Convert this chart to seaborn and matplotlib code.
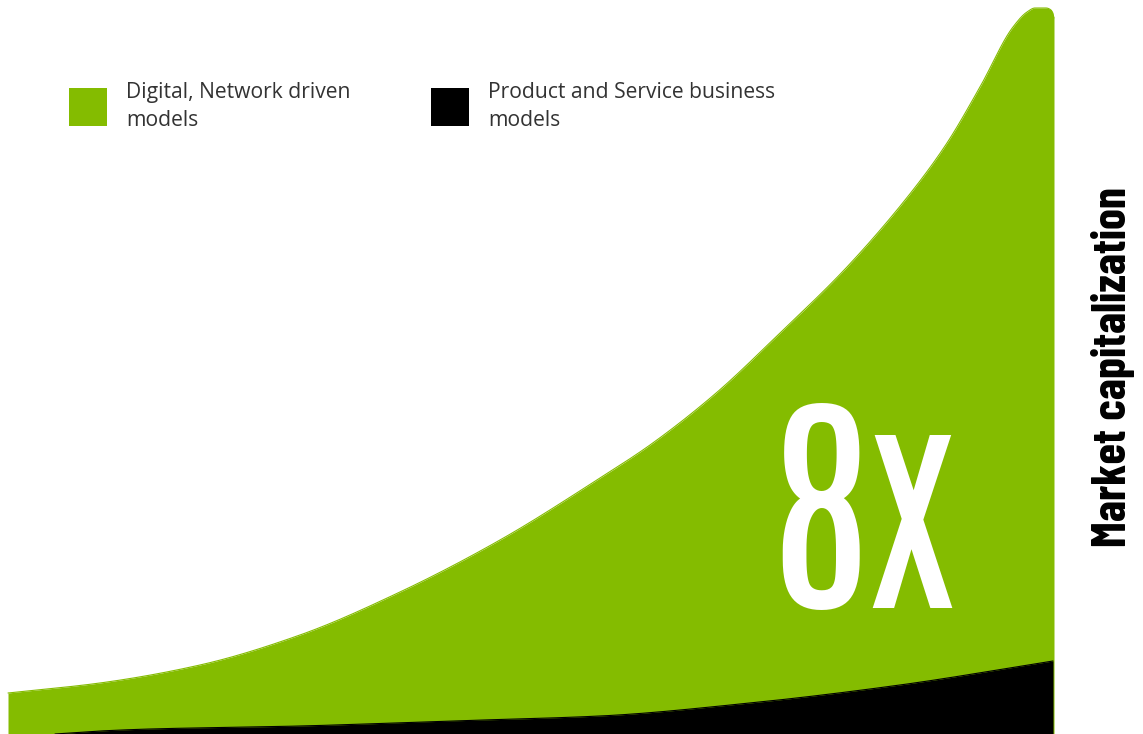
import numpy as np
import matplotlib
matplotlib.use("Agg")
import matplotlib.pyplot as plt
import seaborn as sns
from matplotlib import font_manager
from matplotlib.font_manager import FontProperties
from matplotlib.textpath import TextPath

# ---- data ----
time_green = [8, 100, 200, 300, 400, 500, 600, 650, 715, 780, 847, 913, 947, 980, 1013, 1027, 1035, 1046, 1052, 1054]
cap_green = [41, 51, 69, 99, 142, 194, 256, 289, 340, 401, 467, 544, 591, 647, 707, 722, 726, 726, 723, 716]
time_black = [55, 100, 150, 300, 450, 600, 750, 900, 1053]
cap_black = [0, 3, 5, 8, 13, 18, 31, 49, 73]
series_labels = ["Digital, Network driven\nmodels", "Product and Service business\nmodels"]
big_label = "8x"
axis_label = "Market capitalization"

GREEN = "#84BC00"
PX = 100 / 72.0


def pchip(x, y, xn):
    x = np.asarray(x, float); y = np.asarray(y, float)
    h = np.diff(x); d = np.diff(y) / h
    n = len(x); m = np.zeros(n)
    m[0], m[-1] = d[0], d[-1]
    for k in range(1, n - 1):
        if d[k - 1] * d[k] > 0:
            w1 = 2 * h[k] + h[k - 1]; w2 = h[k] + 2 * h[k - 1]
            m[k] = (w1 + w2) / (w1 / d[k - 1] + w2 / d[k])
    idx = np.clip(np.searchsorted(x, xn) - 1, 0, n - 2)
    t = (xn - x[idx]) / h[idx]
    h00 = 2 * t**3 - 3 * t**2 + 1; h10 = t**3 - 2 * t**2 + t
    h01 = -2 * t**3 + 3 * t**2; h11 = t**3 - t**2
    return h00 * y[idx] + h10 * h[idx] * m[idx] + h01 * y[idx + 1] + h11 * h[idx] * m[idx + 1]


sns.set_theme(style="white")
names = {f.name for f in font_manager.fontManager.ttflist}
text_font = "Open Sans" if "Open Sans" in names else "DejaVu Sans"
big_font = "Antonio" if "Antonio" in names else "DejaVu Sans"
lab_font = "Barlow Condensed" if "Barlow Condensed" in names else "DejaVu Sans"

fig = plt.figure(figsize=(11.43, 7.34), dpi=100)
ax = fig.add_axes([0, 0, 1, 1])
ax.set_xlim(0, 1143)
ax.set_ylim(0, 734)
ax.axis("off")

# green series (digital / network driven)
xg = np.linspace(time_green[0], time_green[-1], 800)
yg = pchip(time_green, cap_green, xg)
ax.fill_between(xg, 0, yg, color=GREEN, lw=0)
sns.lineplot(x=xg, y=yg, ax=ax, color=GREEN, lw=0.8, sort=False)

# black series (product and service)
xb = np.linspace(time_black[0], time_black[-1], 600)
yb = pchip(time_black, cap_black, xb)
ax.fill_between(xb, -5, yb, color="black", lw=0)
sns.lineplot(x=xb, y=yb, ax=ax, color="black", lw=0.8, sort=False)

# legend
for (sx, tx), col, lab in zip([(69, 126), (431, 488)], [GREEN, "black"], series_labels):
    ax.add_patch(plt.Rectangle((sx, 734 - 126), 38, 38, color=col, lw=0))
    ax.text(tx, 734 - 82, lab, ha="left", va="top", fontsize=15.2, color="#333333",
            family=text_font, linespacing=1.45)

# big "8x" : ink 207 px tall, centred near x=867, bottom at y=124
e = TextPath((0, 0), big_label, size=100, prop=FontProperties(family=big_font)).get_extents()
big_size = 100 * 207 / (e.height * PX)
sc = big_size / 100 * PX
ax.text(867 - (e.x0 + e.width / 2) * sc, 124 - e.y0 * sc, big_label, ha="left", va="baseline",
        color="white", fontsize=big_size, family=big_font)

# right-side label
ax.text(1113, 367, axis_label, rotation=90, ha="center", va="center", color="black",
        fontsize=34, fontweight="bold", family=lab_font)

fig.savefig("out.png", dpi=100)
